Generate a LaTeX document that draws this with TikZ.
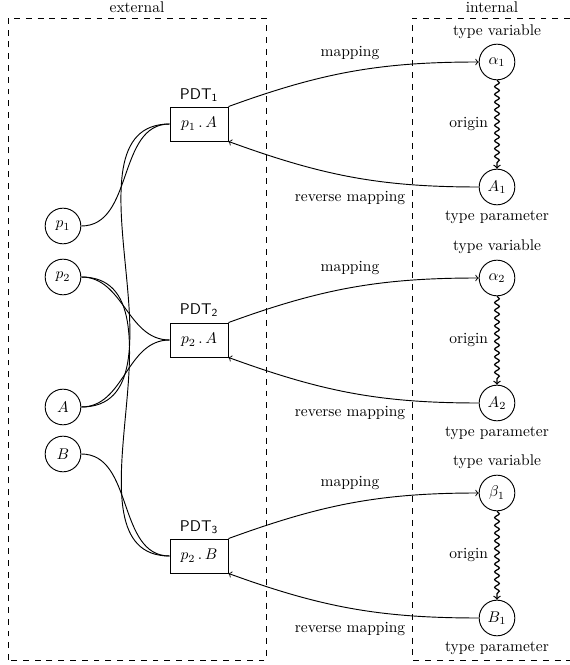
\documentclass[tikz,border=0pt]{standalone}
\usetikzlibrary{decorations.pathmorphing}
\begin{document}
\begin{tikzpicture}[x=0.645pt,y=0.645pt,
  circ/.style={circle,draw,line width=0.6pt,minimum size=23pt,inner sep=0pt},
  pbox/.style={rectangle,draw,line width=0.6pt,minimum width=37.4pt,minimum height=21.9pt,inner sep=1pt},
  link/.style={line width=0.6pt},
  maparrow/.style={line width=0.6pt,->},
  originarrow/.style={line width=0.8pt,->,decorate,decoration={snake,amplitude=1.5pt,segment length=5pt,post length=3pt}},
  region/.style={line width=0.5pt,dash pattern=on 3.8pt off 3.8pt},
  lbl/.style={inner sep=0pt}
]
\useasboundingbox (0,0) rectangle (570,665);
% regions
\draw[region] (8,5) rectangle (266,647);
\draw[region] (570,647) -- (412,647) -- (412,5) -- (570,5);
\node[lbl] (ext) at (137,658) {external};
\node[lbl] (int) at (492,658) {internal};
% left nodes
\node[circ] (p1) at (63,439) {$p_1$};
\node[circ] (p2) at (63,388) {$p_2$};
\node[circ] (A) at (63,258) {$A$};
\node[circ] (B) at (63,211) {$B$};
% boxes
\node[pbox] (b1) at (199,541) {$p_1\,.\,A$};
\node[pbox] (b2) at (199,325) {$p_2\,.\,A$};
\node[pbox] (b3) at (199,109) {$p_2\,.\,B$};
\node[lbl] (l1) at (199,570) {\textsf{PDT\textsubscript{1}}};
\node[lbl] (l2) at (199,355) {\textsf{PDT\textsubscript{2}}};
\node[lbl] (l3) at (199,138) {\textsf{PDT\textsubscript{3}}};
% right nodes
\node[circ] (a1) at (497,603) {$\alpha_1$};
\node[circ] (A1) at (497,478) {$A_1$};
\node[circ] (a2) at (497,387) {$\alpha_2$};
\node[circ] (A2) at (497,262) {$A_2$};
\node[circ] (b1v) at (497,172) {$\beta_1$};
\node[circ] (B1) at (497,47) {$B_1$};
\node[lbl] (tv1) at (497,633) {type variable};
\node[lbl] (tp1) at (497,448) {type parameter};
\node[lbl] (tv2) at (497,418) {type variable};
\node[lbl] (tp2) at (497,232) {type parameter};
\node[lbl] (tv3) at (497,203) {type variable};
\node[lbl] (tp3) at (497,17) {type parameter};
\node[lbl] (m1) at (350,612) {mapping};
\node[lbl] (m2) at (350,397) {mapping};
\node[lbl] (m3) at (350,182) {mapping};
\node[lbl] (r1) at (350,467) {reverse mapping};
\node[lbl] (r2) at (350,252) {reverse mapping};
\node[lbl] (r3) at (350,36) {reverse mapping};
% left links
\draw[link] (p1.east) to[out=0,in=180] (b1.west);
\draw[link] (A.east) to[out=0,in=180] (b1.west);
\draw[link] (A.east) to[out=0,in=180] (b2.west);
\draw[link] (p2.east) to[out=0,in=180] (b2.west);
\draw[link] (p2.east) to[out=0,in=180] (b3.west);
\draw[link] (B.east) to[out=0,in=180] (b3.west);
% mappings
\draw[maparrow] (b1.north east) to[out=20,in=180] (a1.west);
\draw[maparrow] (A1.west) to[out=180,in=-20] (b1.south east);
\draw[maparrow] (b2.north east) to[out=20,in=180] (a2.west);
\draw[maparrow] (A2.west) to[out=180,in=-20] (b2.south east);
\draw[maparrow] (b3.north east) to[out=20,in=180] (b1v.west);
\draw[maparrow] (B1.west) to[out=180,in=-20] (b3.south east);
% origins
\draw[originarrow] (a1.south) -- node[left=2pt] (o1) {origin} (A1.north);
\draw[originarrow] (a2.south) -- node[left=2pt] (o2) {origin} (A2.north);
\draw[originarrow] (b1v.south) -- node[left=2pt] (o3) {origin} (B1.north);
\end{tikzpicture}
\end{document}
